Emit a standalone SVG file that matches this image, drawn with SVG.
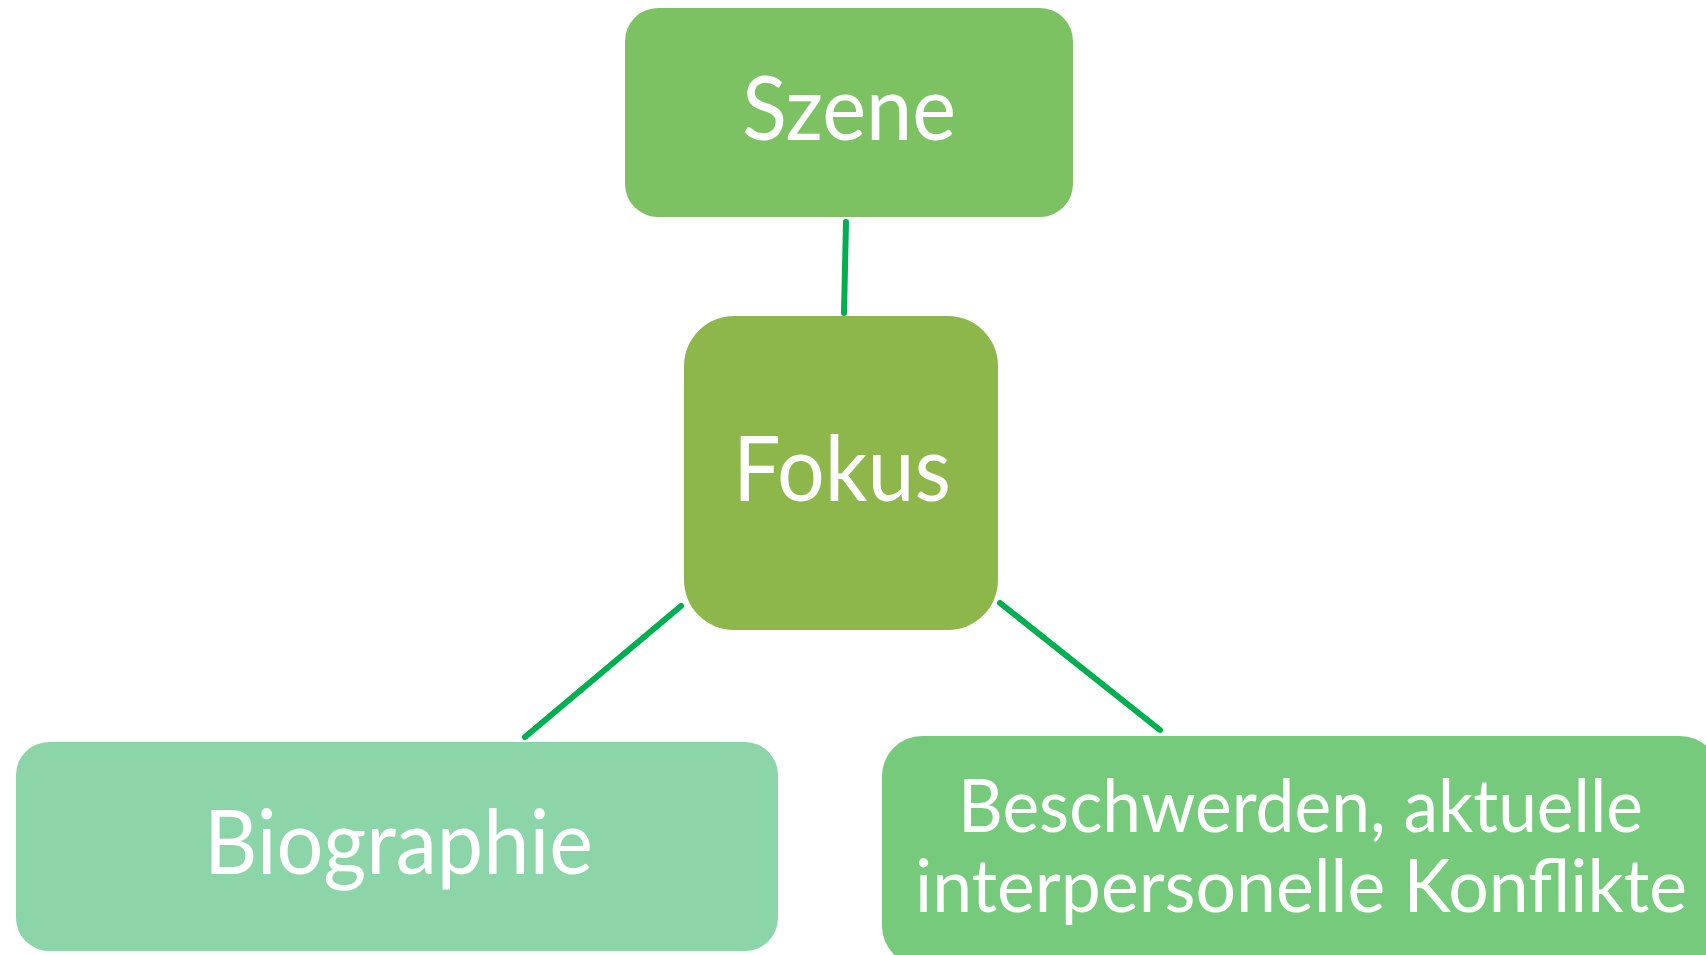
<svg xmlns="http://www.w3.org/2000/svg" width="1706" height="955" viewBox="0 0 1706 955">
<style>
.lbl{font-family:Lato,"Open Sans","Liberation Sans",sans-serif;fill:#ffffff;text-anchor:middle}
.con{stroke:#00b050;stroke-width:6;stroke-linecap:round;fill:none}
</style>
<rect width="1706" height="955" fill="#ffffff"/>
<g id="connectors">
<line class="con" x1="846" y1="222" x2="844" y2="313"/>
<line class="con" x1="681" y1="606" x2="525" y2="737"/>
<line class="con" x1="1000" y1="603" x2="1160" y2="730"/>
</g>
<g id="szene">
<rect x="625" y="8" width="448" height="209" rx="33" fill="#7cc262"/>
<text class="lbl" x="849" y="140" font-size="90" textLength="214" lengthAdjust="spacingAndGlyphs">Szene</text>
</g>
<g id="fokus">
<rect x="684" y="316" width="314" height="314" rx="50" fill="#8db64b"/>
<text class="lbl" x="842" y="501" font-size="92" textLength="218" lengthAdjust="spacingAndGlyphs">Fokus</text>
</g>
<g id="biographie">
<rect x="16" y="742" width="762" height="209" rx="33" fill="#8bd5a9"/>
<text class="lbl" x="398.5" y="874" font-size="89" textLength="389" lengthAdjust="spacingAndGlyphs">Biographie</text>
</g>
<g id="beschwerden">
<rect x="882" y="736" width="838" height="230" rx="40" fill="#75ca7c"/>
<text class="lbl" x="1300.5" y="832" font-size="74" textLength="685" lengthAdjust="spacingAndGlyphs">Beschwerden, aktuelle</text>
<text class="lbl" x="1301" y="912" font-size="74" textLength="772" lengthAdjust="spacingAndGlyphs">interpersonelle Konflikte</text>
</g>
</svg>
